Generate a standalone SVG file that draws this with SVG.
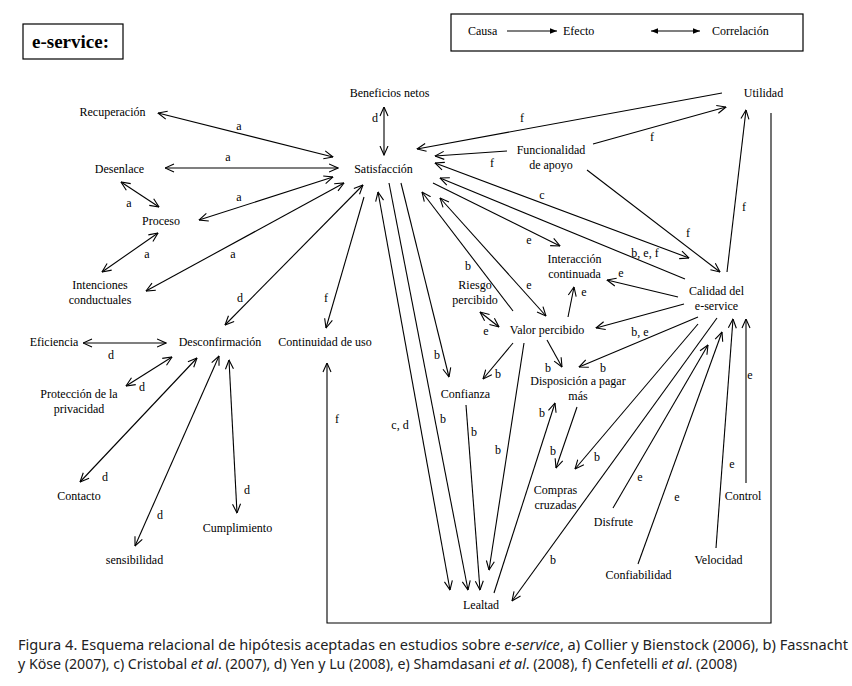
<svg xmlns="http://www.w3.org/2000/svg" width="852" height="686" viewBox="0 0 852 686">
<style>
text{font-family:"Liberation Serif","Times New Roman",serif;font-size:12px;fill:#000}
.n text{text-anchor:middle}
.lb{text-anchor:middle}
.c line,.c path{stroke:#000;stroke-width:1.1;fill:none}
.s{marker-end:url(#arr)}
.d{marker-start:url(#arr);marker-end:url(#arr)}
.cap{font-family:"Noto Sans","Open Sans",sans-serif;font-size:14px;fill:#222}
</style>
<defs>
<marker id="arr" viewBox="0 0 10 10" refX="9.5" refY="5" markerWidth="10" markerHeight="10" markerUnits="userSpaceOnUse" orient="auto-start-reverse">
<path d="M0.5,1 L9.5,5 L0.5,9" fill="none" stroke="#000" stroke-width="1.1"/>
</marker>
<marker id="tri" viewBox="0 0 10 10" refX="10" refY="5" markerWidth="7" markerHeight="7" markerUnits="userSpaceOnUse" orient="auto-start-reverse">
<path d="M0,1 L10,5 L0,9 Z" fill="#000"/>
</marker>
</defs>
<rect width="852" height="686" fill="#fff"/>

<g id="title">
<rect x="23" y="24" width="100" height="35" fill="none" stroke="#000" stroke-width="1.2"/>
<text x="32" y="48" style="font-size:19px;font-weight:bold">e-service:</text>
</g>

<g id="legend">
<rect x="451" y="14" width="352" height="37" fill="none" stroke="#000" stroke-width="1.2"/>
<text x="468" y="35">Causa</text>
<line x1="507" y1="31" x2="557" y2="31" stroke="#000" stroke-width="1.1" marker-end="url(#tri)"/>
<text x="563" y="35">Efecto</text>
<line x1="651" y1="31" x2="700" y2="31" stroke="#000" stroke-width="1.1" marker-start="url(#tri)" marker-end="url(#tri)"/>
<text x="712" y="35">Correlación</text>
</g>

<g class="n">
<g id="beneficios"><text x="389.5" y="97">Beneficios netos</text></g>
<g id="recuperacion"><text x="112.5" y="116">Recuperación</text></g>
<g id="satisfaccion"><text x="383.5" y="173">Satisfacción</text></g>
<g id="desenlace"><text x="119.5" y="173">Desenlace</text></g>
<g id="proceso"><text x="161" y="225">Proceso</text></g>
<g id="intenciones"><text x="100" y="289">Intenciones</text><text x="100" y="304">conductuales</text></g>
<g id="eficiencia"><text x="54" y="346">Eficiencia</text></g>
<g id="desconfirmacion"><text x="220" y="346">Desconfirmación</text></g>
<g id="continuidad"><text x="325" y="346">Continuidad de uso</text></g>
<g id="proteccion"><text x="79" y="398">Protección de la</text><text x="79" y="413">privacidad</text></g>
<g id="contacto"><text x="79" y="500">Contacto</text></g>
<g id="sensibilidad"><text x="134.5" y="564">sensibilidad</text></g>
<g id="cumplimiento"><text x="237.5" y="532">Cumplimiento</text></g>
<g id="utilidad"><text x="763.5" y="97">Utilidad</text></g>
<g id="funcionalidad"><text x="551" y="154">Funcionalidad</text><text x="551" y="169">de apoyo</text></g>
<g id="interaccion"><text x="574.5" y="263">Interacción</text><text x="574.5" y="278">continuada</text></g>
<g id="calidad"><text x="716.5" y="295">Calidad del</text><text x="716.5" y="310">e-service</text></g>
<g id="riesgo"><text x="475" y="289">Riesgo</text><text x="475" y="304">percibido</text></g>
<g id="valor"><text x="547" y="334">Valor percibido</text></g>
<g id="confianza"><text x="465.5" y="398">Confianza</text></g>
<g id="disposicion"><text x="578" y="385">Disposición a pagar</text><text x="578" y="400">más</text></g>
<g id="compras"><text x="555.5" y="494">Compras</text><text x="555.5" y="509">cruzadas</text></g>
<g id="disfrute"><text x="613.5" y="526">Disfrute</text></g>
<g id="confiabilidad"><text x="638.5" y="579">Confiabilidad</text></g>
<g id="velocidad"><text x="718.5" y="564">Velocidad</text></g>
<g id="control"><text x="743" y="500">Control</text></g>
<g id="lealtad"><text x="481" y="609">Lealtad</text></g>
</g>

<g id="connectors" class="c">
<line class="d" x1="384" y1="107" x2="384" y2="155"/>
<line class="d" x1="158" y1="113" x2="333" y2="157"/>
<line class="d" x1="165" y1="168" x2="338" y2="168"/>
<line class="d" x1="121" y1="182" x2="159" y2="207"/>
<line class="d" x1="199" y1="220" x2="333" y2="177"/>
<line class="d" x1="158" y1="233" x2="102" y2="272"/>
<line class="d" x1="344" y1="183" x2="146" y2="291"/>
<line class="d" x1="363" y1="185" x2="225" y2="325"/>
<line class="d" x1="83" y1="343" x2="166" y2="343"/>
<line class="d" x1="172" y1="357" x2="126" y2="386"/>
<line class="d" x1="197" y1="358" x2="80" y2="482"/>
<line class="d" x1="219" y1="356" x2="135" y2="546"/>
<line class="d" x1="229" y1="360" x2="237" y2="513"/>
<line class="d" x1="378" y1="192" x2="450" y2="590"/>
<line class="d" x1="435" y1="163" x2="689" y2="258"/>
<line class="d" x1="440" y1="198" x2="546" y2="316"/>
<line class="d" x1="480" y1="312" x2="499" y2="327"/>
<line class="s" x1="364" y1="197" x2="326" y2="328"/>
<line class="s" x1="722" y1="93" x2="417" y2="149"/>
<line class="s" x1="507" y1="151" x2="435" y2="156"/>
<line class="s" x1="593" y1="144" x2="726" y2="107"/>
<line class="s" x1="587" y1="170" x2="720" y2="272"/>
<line class="s" x1="727" y1="272" x2="746" y2="110"/>
<line class="s" x1="685" y1="279" x2="440" y2="178"/>
<line class="s" x1="433" y1="183" x2="560" y2="246"/>
<line class="s" x1="513" y1="311" x2="422" y2="192"/>
<line class="s" x1="678" y1="297" x2="607" y2="280"/>
<line class="s" x1="568" y1="317" x2="574" y2="287"/>
<line class="s" x1="684" y1="304" x2="596" y2="328"/>
<line class="s" x1="698" y1="317" x2="579" y2="367"/>
<line class="s" x1="547" y1="340" x2="562" y2="367"/>
<line class="s" x1="513" y1="343" x2="483" y2="379"/>
<line class="s" x1="401" y1="183" x2="449" y2="377"/>
<line class="s" x1="389" y1="183" x2="468" y2="590"/>
<line class="s" x1="466" y1="405" x2="480" y2="590"/>
<line class="s" x1="524" y1="343" x2="489" y2="570"/>
<line class="s" x1="494" y1="593" x2="555" y2="403"/>
<line class="s" x1="577" y1="407" x2="556" y2="468"/>
<line class="s" x1="698" y1="324" x2="575" y2="469"/>
<line class="s" x1="717" y1="318" x2="512" y2="601"/>
<line class="s" x1="613" y1="508" x2="708" y2="345"/>
<line class="s" x1="638" y1="564" x2="722" y2="332"/>
<line class="s" x1="716" y1="548" x2="733" y2="319"/>
<line class="s" x1="746" y1="483" x2="746" y2="319"/>
<path class="s" d="M771,113 V623 H327 V363"/>
</g>

<g id="labels" class="lb">
<text x="375" y="122">d</text>
<text x="239" y="130">a</text>
<text x="228" y="161">a</text>
<text x="129" y="207">a</text>
<text x="239" y="201">a</text>
<text x="147" y="258">a</text>
<text x="233" y="258">a</text>
<text x="240" y="302">d</text>
<text x="326" y="302">f</text>
<text x="111" y="359">d</text>
<text x="142" y="391">d</text>
<text x="337" y="423">f</text>
<text x="400" y="429">c, d</text>
<text x="105" y="481">d</text>
<text x="160" y="519">d</text>
<text x="247" y="494">d</text>
<text x="522" y="122">f</text>
<text x="652" y="141">f</text>
<text x="492" y="167">f</text>
<text x="542" y="199">c</text>
<text x="688" y="237">f</text>
<text x="744" y="211">f</text>
<text x="529" y="244">e</text>
<text x="645" y="257">b, e, f</text>
<text x="468" y="270">b</text>
<text x="621" y="277">e</text>
<text x="529" y="289">e</text>
<text x="584" y="296">e</text>
<text x="486" y="335">e</text>
<text x="640" y="336">b, e</text>
<text x="437" y="359">b</text>
<text x="548" y="372">b</text>
<text x="603" y="372">b</text>
<text x="498" y="378">b</text>
<text x="750" y="379">e</text>
<text x="542" y="417">b</text>
<text x="443" y="423">b</text>
<text x="474" y="436">b</text>
<text x="498" y="454">b</text>
<text x="553" y="455">b</text>
<text x="597" y="461">b</text>
<text x="732" y="468">e</text>
<text x="640" y="481">e</text>
<text x="677" y="501">e</text>
<text x="553" y="564">b</text>
</g>

<g id="caption">
<text class="cap" x="18" y="650" textLength="830" lengthAdjust="spacingAndGlyphs">Figura 4. Esquema relacional de hipótesis aceptadas en estudios sobre <tspan font-style="italic">e-service</tspan>, a) Collier y Bienstock (2006), b) Fassnacht</text>
<text class="cap" x="18" y="669" textLength="719" lengthAdjust="spacingAndGlyphs">y Köse (2007), c) Cristobal <tspan font-style="italic">et al</tspan>. (2007), d) Yen y Lu (2008), e) Shamdasani <tspan font-style="italic">et al</tspan>. (2008), f) Cenfetelli <tspan font-style="italic">et al</tspan>. (2008)</text>
</g>
</svg>
